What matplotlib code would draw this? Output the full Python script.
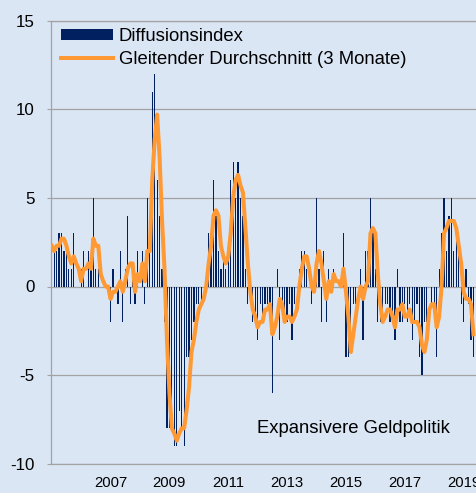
import matplotlib.pyplot as plt
import numpy as np

plt.rcParams['font.family'] = 'Liberation Sans'
plt.rcParams['axes.unicode_minus'] = False

# Diffusionsindex, monthly from Jan 2005
diff_2005 = [3, 2, 2, 3, 3, 2, 2, 1, 1, 3, 0, 0]
diff_2006 = [1, 2, 0, 2, 1, 5, 1, 1, 0, 0, 0, 0]
diff_2007 = [-2, 1, 0, -1, 2, -2, 1, 4, -1, 1, -1, 2]
diff_2008 = [0, 2, -1, 5, 2, 11, 12, 6, 4, 1, -2, -8]
diff_2009 = [-8, -8, -9, -9, -7, -8, -9, -4, -4, -3, -2, -1]
diff_2010 = [-1, -1, 0, 1, 3, 3, 6, 4, 2, 1, 2, 1]
diff_2011 = [2, 6, 7, 5, 7, 5, 4, 1, -1, -1, -2, -2]
diff_2012 = [-3, -1, -2, -1, -1, -1, -6, 0, 1, -3, -1, -2]
diff_2013 = [-2, -1, -3, -1, 0, 1, 2, 2, 1, 0, -1, 0]
diff_2014 = [5, 1, -2, 2, -2, 1, 0, 1, 0, 0, 0, 3]
diff_2015 = [-4, -4, -3, -1, -1, 0, 1, -3, 2, 2, 5, 3]
diff_2016 = [1, -2, -2, -2, -1, -1, -2, -2, -3, 1, -2, -2]
diff_2017 = [-1, -2, -1, -3, -2, -1, -4, -5, -2, -2, 0, -1]
diff_2018 = [-2, -4, 1, 3, 5, 2, 4, 5, 2, 3, 2, -1]
diff_2019 = [-2, 1, -1, -3, -4]

# Gleitender Durchschnitt (3 Monate)
avg_2005 = [2.3, 2.0, 2.3, 2.3, 2.7, 2.7, 2.3, 1.7, 1.3, 1.7, 1.3, 1.0]
avg_2006 = [0.3, 1.0, 1.0, 1.3, 1.0, 2.7, 2.3, 2.3, 0.7, 0.3, 0.0, 0.0]
avg_2007 = [-0.7, -0.3, -0.3, 0.0, 0.3, -0.3, 0.3, 1.0, 1.3, 1.3, -0.3, 0.7]
avg_2008 = [0.3, 1.3, 0.3, 2.0, 2.0, 6.0, 8.3, 9.7, 7.3, 3.7, 1.0, -3.0]
avg_2009 = [-6.0, -8.0, -8.3, -8.7, -8.3, -8.0, -8.0, -7.0, -5.7, -3.7, -3.0, -2.0]
avg_2010 = [-1.3, -1.0, -0.7, 0.0, 1.3, 2.3, 4.0, 4.3, 4.0, 2.3, 1.7, 1.3]
avg_2011 = [1.7, 3.0, 5.0, 6.0, 6.3, 5.7, 5.3, 3.3, 1.3, -0.3, -1.3, -1.7]
avg_2012 = [-2.3, -2.0, -2.0, -1.3, -1.3, -1.0, -2.7, -2.3, -1.7, -0.7, -1.0, -2.0]
avg_2013 = [-1.7, -1.7, -2.0, -1.7, -1.3, 0.0, 1.0, 1.7, 1.7, 1.0, 0.0, -0.3]
avg_2014 = [1.3, 2.0, 1.3, 0.3, -0.7, 0.3, -0.3, 0.7, 0.3, 0.3, 0.0, 1.0]
avg_2015 = [-0.3, -1.7, -3.7, -2.7, -1.7, -0.7, 0.0, -0.7, 0.0, 0.3, 3.0, 3.3]
avg_2016 = [3.0, 0.7, -1.0, -2.0, -1.7, -1.3, -1.3, -1.7, -2.3, -1.3, -1.3, -1.0]
avg_2017 = [-1.7, -1.7, -1.3, -2.0, -2.0, -2.0, -2.3, -3.3, -3.7, -3.0, -1.3, -1.0]
avg_2018 = [-1.0, -2.3, -1.7, 0.0, 3.0, 3.3, 3.7, 3.7, 3.7, 3.3, 2.3, 1.3]
avg_2019 = [-0.3, -0.7, -0.7, -1.0, -2.7]

years = [2007, 2009, 2011, 2013, 2015, 2017, 2019]
labels = ['Diffusionsindex', 'Gleitender Durchschnitt (3 Monate)']

diffusion = np.array(diff_2005 + diff_2006 + diff_2007 + diff_2008 + diff_2009
                     + diff_2010 + diff_2011 + diff_2012 + diff_2013 + diff_2014
                     + diff_2015 + diff_2016 + diff_2017 + diff_2018 + diff_2019)
moving_avg = np.array(avg_2005 + avg_2006 + avg_2007 + avg_2008 + avg_2009
                      + avg_2010 + avg_2011 + avg_2012 + avg_2013 + avg_2014
                      + avg_2015 + avg_2016 + avg_2017 + avg_2018 + avg_2019)
t = 2005 + np.arange(len(diffusion)) / 12

bg = '#dbe6f5'
grey = '#a3a3a3'

fig = plt.figure(figsize=(4.76, 4.93), dpi=100, facecolor=bg)
ax = fig.add_axes([51 / 476, 1 - 463.7 / 493, 425 / 476, 443 / 493])
ax.set_facecolor(bg)

bars = ax.bar(t, diffusion, width=0.5 / 12, color='#002060', zorder=2)
line, = ax.plot(t, moving_avg, color='#ff9933', lw=2.9,
                solid_joinstyle='round', zorder=3)

ax.set_ylim(-10, 15)
ax.set_xlim(2005 - 0.29 / 12, 2005 + 173.04 / 12)
ax.set_yticks(range(-10, 16, 5))
ax.set_xticks(years)
ax.set_xticklabels([str(y) for y in years])

ax.set_axisbelow(True)
ax.yaxis.grid(True, color=grey, lw=0.9)
for s in ['top', 'bottom', 'left']:
    ax.spines[s].set_color(grey)
    ax.spines[s].set_linewidth(0.9)
ax.spines['right'].set_visible(False)

ax.tick_params(axis='y', direction='out', length=3.2, width=0.8, color=grey,
               pad=8.5, labelsize=12.2, labelcolor='black')
ax.tick_params(axis='x', length=0, pad=9.2, labelsize=10.7,
               labelcolor='black')

ax.legend([bars, line], labels, loc='upper left',
          bbox_to_anchor=(0.0247, 0.984), frameon=False, fontsize=13.3,
          handlelength=2.8, handleheight=0.55, handletextpad=0.29,
          labelspacing=0.35, borderpad=0, borderaxespad=0)

ax.text(0.7106, 0.0799, 'Expansivere Geldpolitik', transform=ax.transAxes,
        ha='center', va='center', fontsize=13.3)

fig.savefig('out.png', dpi=100, facecolor=bg)
